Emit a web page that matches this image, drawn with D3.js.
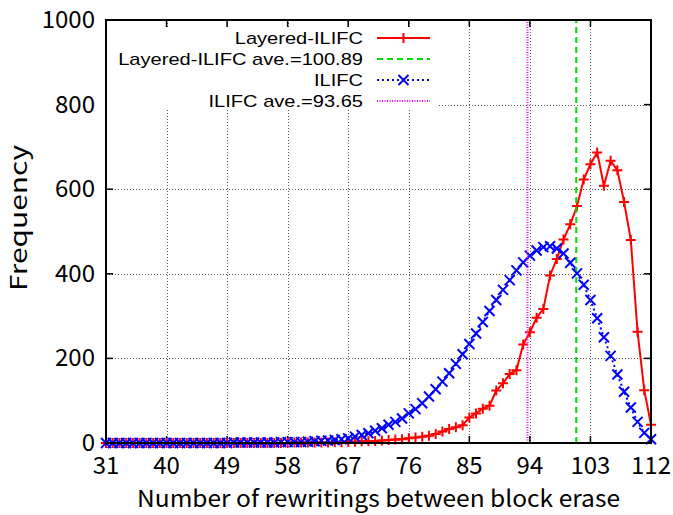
<!DOCTYPE html>
<html>
<head>
<meta charset="utf-8">
<script src="https://cdn.jsdelivr.net/npm/d3@7"></script>
<style>
  html, body { margin: 0; padding: 0; background: #fff; }
  svg { display: block; font-family: "Noto Sans CJK JP", "DejaVu Sans", sans-serif; }
</style>
</head>
<body>
<div id="chart"></div>
<script>
/**** DATA *****/
const firstRewriting = 31;   // x runs 31..112, one point per integer
const layeredFreq = [
  0, 0, 0, 0, 0, 0, 0, 0, 0, 0,            // 31-40
  0, 0, 0, 0, 0, 0, 0, 0, 0, 0,            // 41-50
  0, 0, 0, 0, 0, 0, 0, 0, 1, 1,            // 51-60
  1, 1, 1, 1, 2, 2, 3, 3, 4, 4,            // 61-70
  5, 6, 7, 8, 9, 11, 13, 15, 17, 21,       // 71-80
  27, 33, 37, 42, 60, 70, 81, 88, 124, 141, // 81-90
  163, 172, 233, 262, 296, 317, 396, 435, 481, 517, // 91-100
  560, 623, 659, 687, 608, 667, 645, 570, 480, 263, // 101-110
  125, 43                                   // 111-112
];
const ilifcFreq = [
  0, 0, 0, 0, 0, 0, 0, 0, 0, 0,            // 31-40
  0, 0, 0, 0, 0, 0, 0, 0, 0, 1,            // 41-50
  1, 1, 1, 1, 1, 1, 2, 2, 2, 2,            // 51-60
  3, 4, 5, 6, 7, 9, 11, 15, 19, 23,        // 61-70
  29, 35, 43, 50, 58, 70, 80, 94, 110, 127, // 71-80
  145, 165, 187, 210, 234, 259, 286, 312, 338, 362, // 81-90
  385, 408, 427, 443, 455, 463, 465, 460, 448, 426, // 91-100
  401, 374, 338, 295, 250, 206, 162, 121, 84, 50,   // 101-110
  24, 9                                     // 111-112
];
const layeredAve = 100.89;
const ilifcAve = 93.65;
const xTicks = [31, 40, 49, 58, 67, 76, 85, 94, 103, 112];
const yTicks = [0, 200, 400, 600, 800, 1000];

const seriesNames = ['Layered-ILIFC', 'Layered-ILIFC ave.=100.89', 'ILIFC', 'ILIFC ave.=93.65'];

/**** LAYOUT *****/
const W = 673, H = 515;
const plot = { left: 106, right: 651, top: 20, bottom: 443 };

const x = d3.scaleLinear().domain([31, 112]).range([plot.left, plot.right]);
const y = d3.scaleLinear().domain([0, 1000]).range([plot.bottom, plot.top]);

const toPoints = arr => arr.map((v, i) => ({ x: firstRewriting + i, y: v }));
const layered = toPoints(layeredFreq);
const ilifc = toPoints(ilifcFreq);

const svg = d3.select('#chart').append('svg')
  .attr('width', W).attr('height', H);

// grid
const grid = svg.append('g').attr('class', 'grid')
  .attr('stroke', '#555').attr('stroke-width', 1).attr('stroke-dasharray', '1,2');
grid.selectAll('.gx').data(xTicks.slice(1, -1)).join('line')
  .attr('x1', d => Math.round(x(d)) + 0.5).attr('x2', d => Math.round(x(d)) + 0.5)
  .attr('y1', plot.top).attr('y2', plot.bottom);
grid.selectAll('.gy').data(yTicks.slice(1, -1)).join('line')
  .attr('class', 'gy')
  .attr('y1', d => Math.round(y(d)) + 0.5).attr('y2', d => Math.round(y(d)) + 0.5)
  .attr('x1', plot.left).attr('x2', plot.right);

// ticks on all four sides (pointing inward)
const tickLen = 7;
const ticks = svg.append('g').attr('stroke', '#000').attr('stroke-width', 1.5);
xTicks.forEach(t => {
  ticks.append('line').attr('x1', x(t)).attr('x2', x(t)).attr('y1', plot.bottom).attr('y2', plot.bottom - tickLen);
  ticks.append('line').attr('x1', x(t)).attr('x2', x(t)).attr('y1', plot.top).attr('y2', plot.top + tickLen);
});
yTicks.forEach(t => {
  ticks.append('line').attr('y1', y(t)).attr('y2', y(t)).attr('x1', plot.left).attr('x2', plot.left + tickLen);
  ticks.append('line').attr('y1', y(t)).attr('y2', y(t)).attr('x1', plot.right).attr('x2', plot.right - tickLen);
});

// opaque key box hides the grid behind it
svg.append('rect')
  .attr('x', plot.left + 1).attr('y', plot.top + tickLen + 1)
  .attr('width', 330).attr('height', 80)
  .attr('fill', '#fff');

const lineGen = d3.line().x(d => x(d.x)).y(d => y(d.y));
const plusPath = s => `M${-s},0H${s}M0,${-s}V${s}`;
const crossPath = s => `M${-s},${-s}L${s},${s}M${-s},${s}L${s},${-s}`;

const styles = [
  { color: '#ff0000', dash: null, marker: plusPath(5) },
  { color: '#00dd00', dash: '6,4', marker: null },
  { color: '#0000ff', dash: '2,3', marker: crossPath(5) },
  { color: '#ff00ff', dash: '1,1.5', marker: null }
];

const data = svg.append('g');

// Layered-ILIFC
data.append('path').datum(layered)
  .attr('d', lineGen).attr('fill', 'none')
  .attr('stroke', styles[0].color).attr('stroke-width', 2);
data.append('g').selectAll('path').data(layered).join('path')
  .attr('transform', d => `translate(${x(d.x)},${y(d.y)})`)
  .attr('d', styles[0].marker)
  .attr('stroke', styles[0].color).attr('stroke-width', 2);

// Layered-ILIFC average
data.append('line')
  .attr('x1', x(layeredAve)).attr('x2', x(layeredAve))
  .attr('y1', plot.bottom).attr('y2', plot.top)
  .attr('stroke', styles[1].color).attr('stroke-width', 2).attr('stroke-dasharray', styles[1].dash);

// ILIFC
data.append('path').datum(ilifc)
  .attr('d', lineGen).attr('fill', 'none')
  .attr('stroke', styles[2].color).attr('stroke-width', 2).attr('stroke-dasharray', styles[2].dash);
data.append('g').selectAll('path').data(ilifc).join('path')
  .attr('transform', d => `translate(${x(d.x)},${y(d.y)})`)
  .attr('d', styles[2].marker)
  .attr('stroke', styles[2].color).attr('stroke-width', 2);

// ILIFC average
data.append('line')
  .attr('x1', x(ilifcAve)).attr('x2', x(ilifcAve))
  .attr('y1', plot.bottom).attr('y2', plot.top)
  .attr('stroke', styles[3].color).attr('stroke-width', 2).attr('stroke-dasharray', styles[3].dash);

// border
svg.append('rect')
  .attr('x', plot.left).attr('y', plot.top)
  .attr('width', plot.right - plot.left).attr('height', plot.bottom - plot.top)
  .attr('fill', 'none').attr('stroke', '#000').attr('stroke-width', 2);

// tick labels
svg.append('g').selectAll('text').data(xTicks).join('text')
  .attr('x', d => x(d)).attr('y', plot.bottom + 31)
  .attr('text-anchor', 'middle').attr('font-size', 24)
  .text(d => d);
svg.append('g').selectAll('text').data(yTicks).join('text')
  .attr('x', plot.left - 11).attr('y', d => y(d) + 8)
  .attr('text-anchor', 'end').attr('font-size', 24)
  .text(d => d);

// axis titles (stretched to the reference widths)
svg.append('text')
  .attr('x', 137).attr('y', 507)
  .attr('font-size', 23)
  .attr('textLength', 483).attr('lengthAdjust', 'spacingAndGlyphs')
  .text('Number of rewritings between block erase');
svg.append('text')
  .attr('transform', `translate(27,291) rotate(-90)`)
  .attr('font-size', 23)
  .attr('textLength', 146).attr('lengthAdjust', 'spacingAndGlyphs')
  .text('Frequency');

// key
const key = svg.append('g');
const keyRows = key.selectAll('g').data(seriesNames).join('g')
  .attr('transform', (d, i) => `translate(0,${38 + i * 21})`);
keyRows.append('text')
  .attr('x', 363).attr('y', 6)
  .attr('text-anchor', 'end').attr('font-size', 17)
  .style('font-family', '"Liberation Sans", Arial, sans-serif')
  .text(d => d)
  .each(function () {
    const len = this.getComputedTextLength();
    d3.select(this).attr('textLength', len * 1.18).attr('lengthAdjust', 'spacingAndGlyphs');
  });
keyRows.append('line')
  .attr('x1', 377).attr('x2', 430).attr('y1', 0).attr('y2', 0)
  .attr('stroke', (d, i) => styles[i].color).attr('stroke-width', 2)
  .attr('stroke-dasharray', (d, i) => styles[i].dash);
keyRows.filter((d, i) => styles[i].marker)
  .append('path')
  .attr('transform', 'translate(403.5,0)')
  .attr('d', d => styles[seriesNames.indexOf(d)].marker)
  .attr('stroke', d => styles[seriesNames.indexOf(d)].color).attr('stroke-width', 2);
</script>
</body>
</html>
